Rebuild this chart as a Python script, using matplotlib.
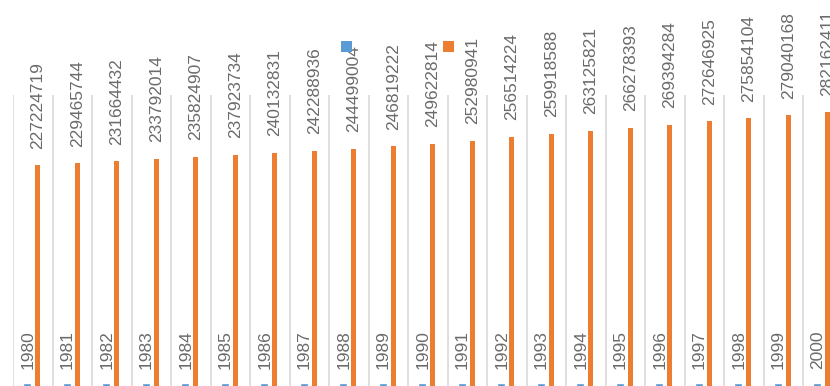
"""
US population by year, 1980-2000, as clustered columns with value labels.
"""

import numpy as np
import matplotlib.pyplot as plt
from matplotlib.patches import Patch

YEARS = [1980, 1981, 1982, 1983, 1984, 1985, 1986, 1987, 1988, 1989, 1990,
         1991, 1992, 1993, 1994, 1995, 1996, 1997, 1998, 1999, 2000]

POPULATION = [227224719, 229465744, 231664432, 233792014, 235824907,
              237923734, 240132831, 242288936, 244499004, 246819222,
              249622814, 252980941, 256514224, 259918588, 263125821,
              266278393, 269394284, 272646925, 275854104, 279040168,
              282162411]

COLORS = {
    'year':       '#5B9BD5',
    'population': '#ED7D31',
    'label':      '#6b6b6b',
    'grid':       '#d9d9d9',
}

plt.rcParams['font.family'] = ['Liberation Sans', 'DejaVu Sans']

W, H = 830, 386
fig = plt.figure(figsize=(W / 100, H / 100), dpi=100)

# plot area in pixels; right side runs past the figure edge
left, right, top, bottom = 13, 13 + 21 * 39.5, 95, 385.5
ax = fig.add_axes([left / W, (H - bottom) / H, (right - left) / W, (bottom - top) / H])

x = np.arange(len(YEARS))
width = 0.115
offset = 0.127

ax.bar(x - offset, YEARS, width=width, color=COLORS['year'],
       edgecolor=COLORS['year'], linewidth=1.2, zorder=3)
ax.bar(x + offset, POPULATION, width=width, color=COLORS['population'],
       zorder=3)

for xi, yv, pv in zip(x, YEARS, POPULATION):
    ax.annotate(str(yv), (xi - offset, yv), xytext=(0, 12),
                textcoords='offset points', rotation=90,
                ha='center', va='bottom', fontsize=12.5,
                color=COLORS['label'], annotation_clip=False)
    ax.annotate(str(pv), (xi + offset, pv), xytext=(0, 12),
                textcoords='offset points', rotation=90,
                ha='center', va='bottom', fontsize=12.5,
                color=COLORS['label'], annotation_clip=False)

ax.set_xlim(-0.5, len(YEARS) - 0.5)
ax.set_ylim(0, 300_000_000)

# vertical gridlines between categories
ax.set_xticks(np.arange(-0.5, len(YEARS), 1.0))
ax.set_xticklabels([])
ax.set_yticks([])
ax.tick_params(length=0)
ax.grid(True, axis='x', color=COLORS['grid'], linewidth=1.2, zorder=0)
ax.set_axisbelow(True)
for s in ax.spines.values():
    s.set_visible(False)

handles = [Patch(facecolor=COLORS['year']), Patch(facecolor=COLORS['population'])]
fs = 10
px = fs * 100 / 72
fig.legend(handles, ['', ''], ncol=2, loc='center',
           bbox_to_anchor=(397.5 / W, 1 - 47.3 / H),
           frameon=False, borderpad=0, fontsize=fs,
           handlelength=11 / px, handleheight=11 / px,
           handletextpad=0, columnspacing=91 / px)

fig.savefig('out.png', dpi=100, facecolor='white')
